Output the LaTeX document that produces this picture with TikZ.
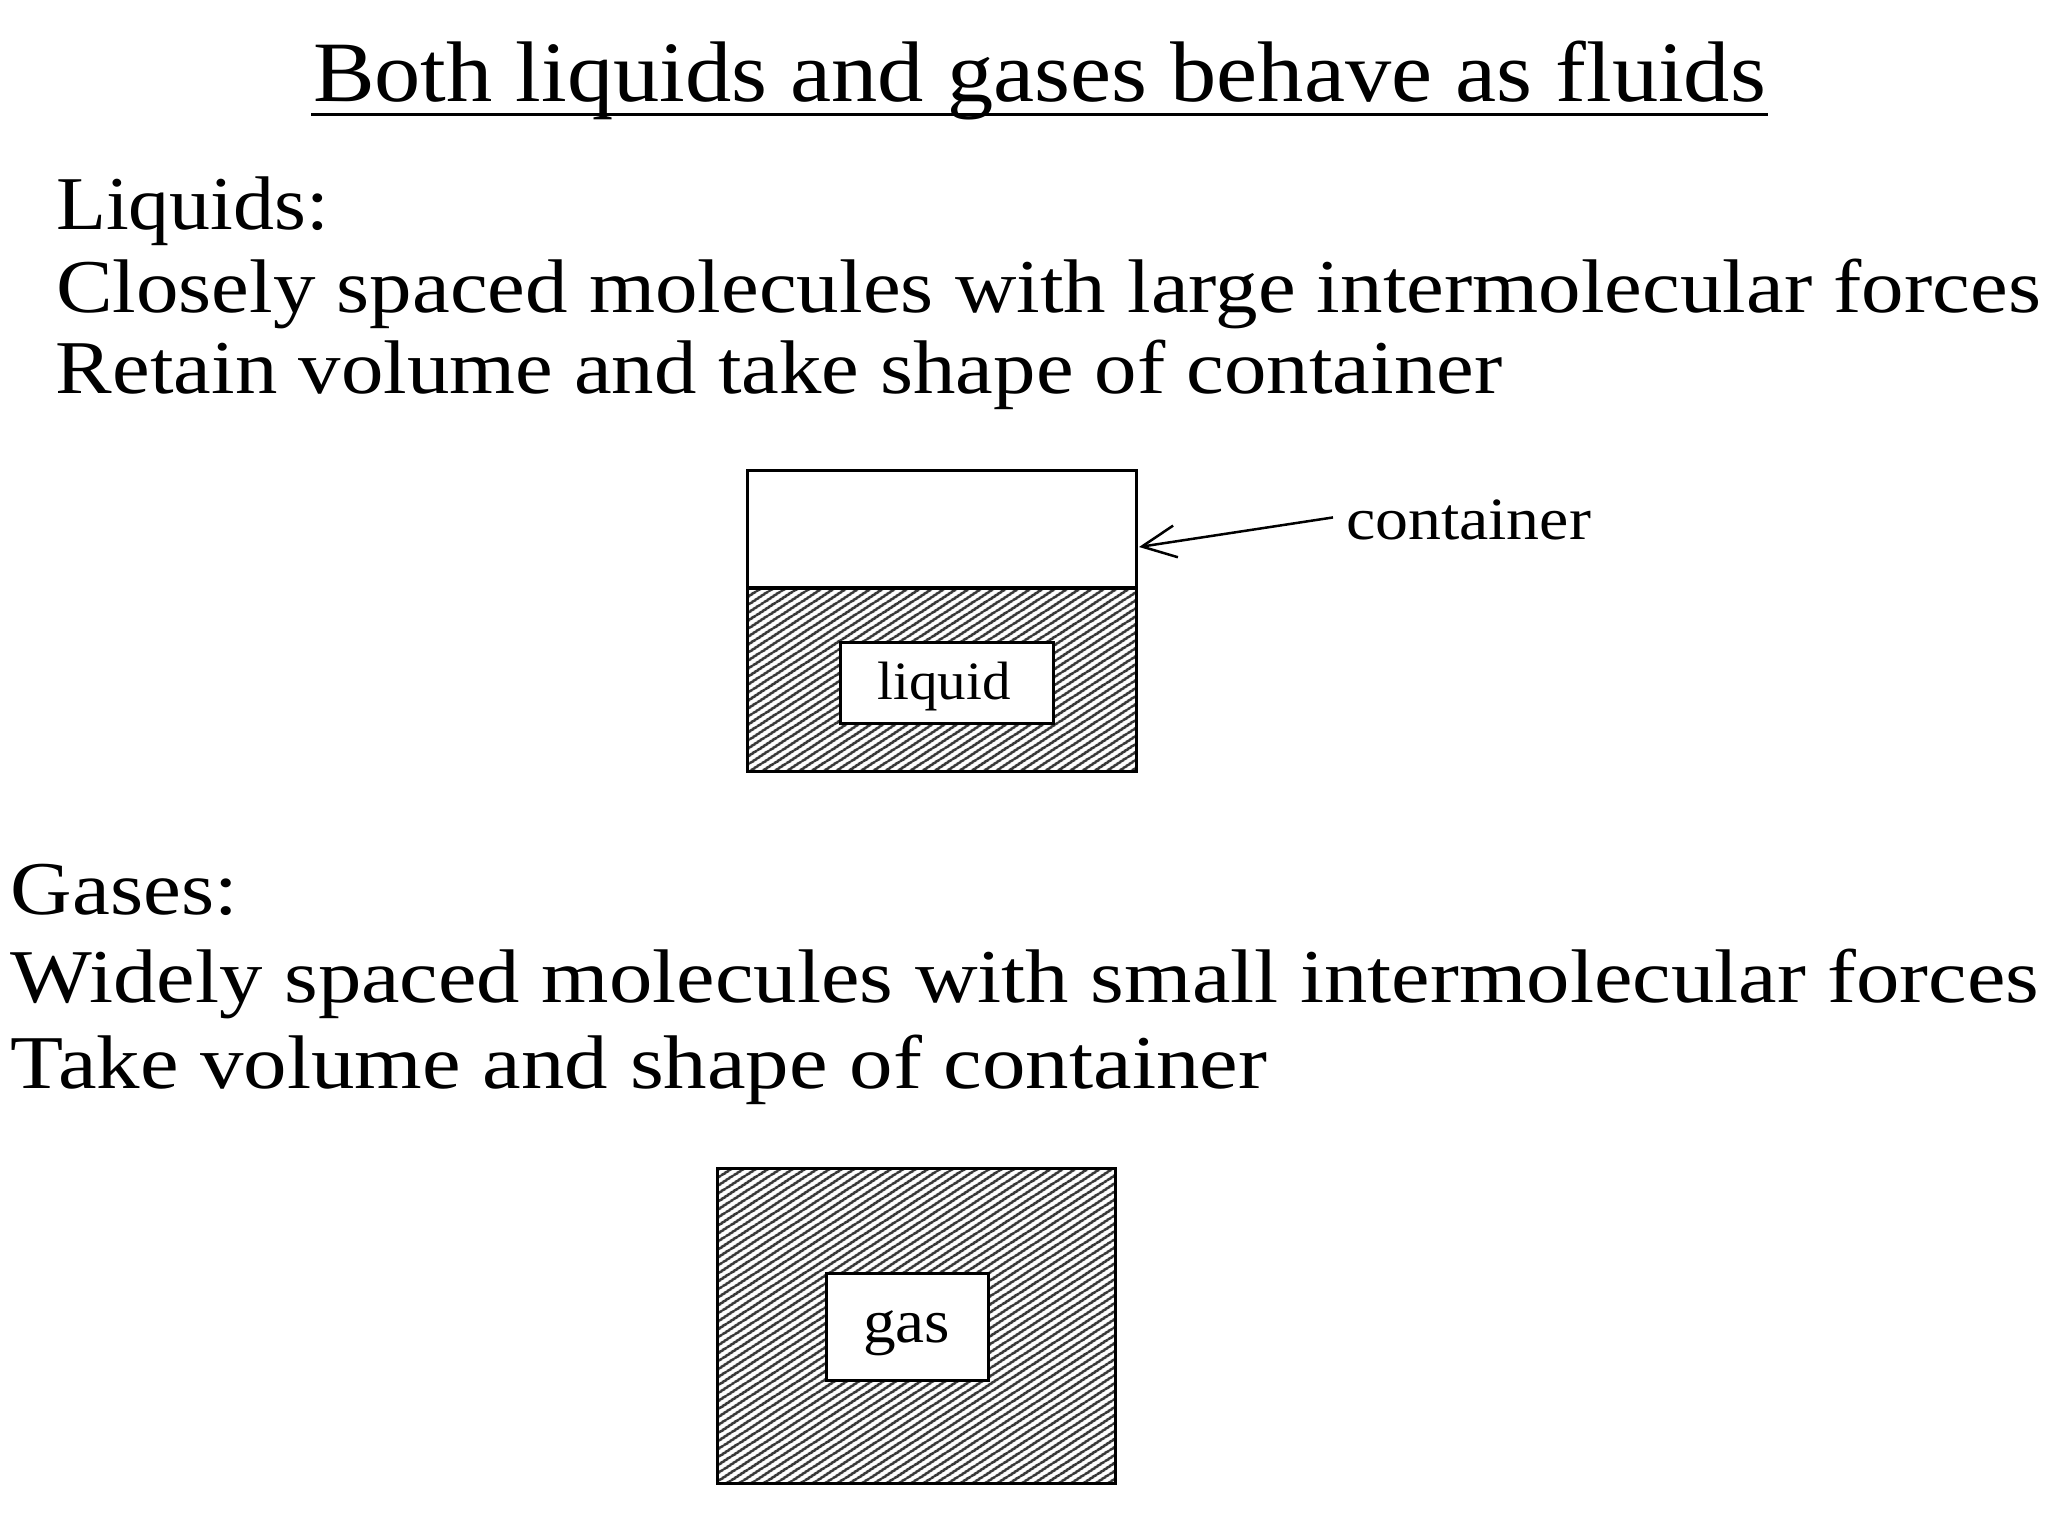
\documentclass[tikz,border=0pt]{standalone}
\usepackage{fontspec}
\setmainfont{Liberation Serif}
\usepackage{graphicx}
\usetikzlibrary{patterns.meta,arrows.meta}

\newcommand{\fittext}[3]{\resizebox{#1pt}{\height}{\fontsize{#2pt}{#2pt}\selectfont #3}}

\begin{document}
\begin{tikzpicture}[x=1pt,y=-1pt,
  txt/.style={anchor=base west,inner sep=0pt,outer sep=0pt},
  ctxt/.style={anchor=base,inner sep=0pt,outer sep=0pt},
  boxline/.style={draw=black,line width=3pt,inner sep=0pt,outer sep=0pt},
  hatchfill/.style={pattern={Lines[angle=33,distance=6.5pt,line width=3pt]},pattern color=black!78,inner sep=0pt,outer sep=0pt},
  whitebox/.style={boxline,fill=white},
]
\useasboundingbox (0,0) rectangle (2048,1536);
\fill[white] (0,0) rectangle (2048,1536);

% title
\node[txt] (title) at (313,102) {\fittext{1453}{86}{Both liquids and gases behave as fluids}};
\draw[line width=3pt] (311,115) -- (1768,115);

% liquids text
\node[txt] (liqhead) at (56,229) {\fittext{273}{76}{Liquids:}};
\node[txt] (liq1) at (56,312) {\fittext{1985}{76}{Closely spaced molecules with large intermolecular forces}};
\node[txt] (liq2) at (56,393) {\fittext{1446}{76}{Retain volume and take shape of container}};

% liquid container
\node[hatchfill,minimum width=389pt,minimum height=183pt,anchor=north west] (lliq) at (747,588) {};
\node[boxline,minimum width=389pt,minimum height=301pt,anchor=north west] (lbox) at (747,470) {};
\draw[line width=3.5pt] (lliq.north west) -- (lliq.north east);
\node[whitebox,minimum width=213pt,minimum height=81pt] (lqbox) at (946.5,682.5) {};
\node[ctxt] (lqtxt) at (944,699) {\fittext{133}{54}{liquid}};

% container label and arrow
\node[txt] (clab) at (1346,539) {\fittext{245}{60}{container}};
\coordinate (ctip) at (1139,547);
\draw[line width=2.5pt,-{Straight Barb[length=34pt,width=32pt,line width=2.5pt]}] ([xshift=-13pt,yshift=2pt]clab.west) -- (ctip);

% gases text
\node[txt] (gashead) at (11,914) {\fittext{227}{76}{Gases:}};
\node[txt] (gas1) at (11,1002) {\fittext{2028}{76}{Widely spaced molecules with small intermolecular forces}};
\node[txt] (gas2) at (11,1088) {\fittext{1256}{76}{Take volume and shape of container}};

% gas container
\node[hatchfill,minimum width=398pt,minimum height=315pt,anchor=north west] (gfill) at (717,1168) {};
\node[boxline,minimum width=398pt,minimum height=315pt,anchor=north west] (gbox) at (717,1168) {};
\node[whitebox,minimum width=162pt,minimum height=107pt] (gsbox) at (907,1326.5) {};
\node[ctxt] (gstxt) at (906.5,1342) {\fittext{87}{62}{gas}};
\end{tikzpicture}
\end{document}
